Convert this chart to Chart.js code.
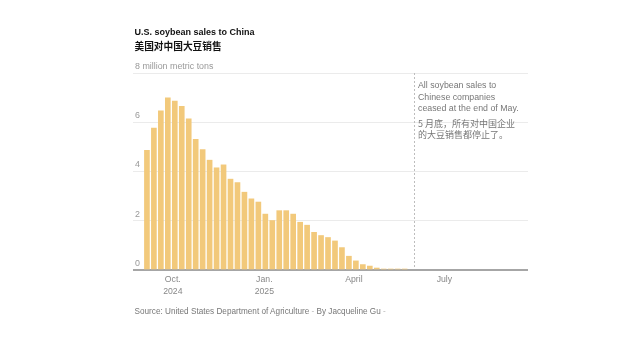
<!DOCTYPE html>
<html>
<head>
<meta charset="utf-8">
<script src="https://cdn.jsdelivr.net/npm/chart.js@4"></script>
<style>
  html, body { margin: 0; padding: 0; background: #fff; }
  #wrap { position: relative; width: 640px; height: 337px; overflow: hidden;
          font-family: 'Liberation Sans', 'Noto Sans CJK SC', sans-serif; }
  #chart { position: absolute; left: 0; top: 0; }
  .t { position: absolute; white-space: nowrap; }
  #title1 { left: 134.5px; top: 26px; font-size: 9px; line-height: 12px; font-weight: bold; color: #121212; }
  #title2 { left: 134.5px; top: 40px; font-size: 9.7px; line-height: 12px; font-weight: bold; color: #121212;
            font-family: 'Noto Sans CJK SC', sans-serif; }
  #noteEn { left: 418px; top: 80.3px; font-size: 8.8px; line-height: 11.5px; color: #777; }
  #noteZh { left: 418px; top: 117.6px; font-size: 9px; line-height: 11px; color: #777;
            font-family: 'Noto Sans CJK SC', sans-serif; }
  #source { left: 134.5px; top: 306.3px; font-size: 8.2px; line-height: 12px; color: #777; }
  #source .sep { color: #bbb; }
</style>
</head>
<body>
<div id="wrap">
  <canvas id="chart" width="640" height="337"></canvas>
  <div class="t" id="title1">U.S. soybean sales to China</div>
  <div class="t" id="title2">美国对中国大豆销售</div>
  <div class="t" id="noteEn">All soybean sales to<br>Chinese companies<br>ceased at the end of May.</div>
  <div class="t" id="noteZh">5 月底，所有对中国企业<br>的大豆销售都停止了。</div>
  <div class="t" id="source">Source: United States Department of Agriculture <span class="sep">-</span> By Jacqueline Gu <span class="sep">-</span></div>
</div>
<script>
// Week-ending dates (categories)
const weekEnding = [
  "2024-09-05","2024-09-12","2024-09-19","2024-09-26",
  "2024-10-03","2024-10-10","2024-10-17","2024-10-24","2024-10-31",
  "2024-11-07","2024-11-14","2024-11-21","2024-11-28",
  "2024-12-05","2024-12-12","2024-12-19","2024-12-26",
  "2025-01-02","2025-01-09","2025-01-16","2025-01-23","2025-01-30",
  "2025-02-06","2025-02-13","2025-02-20","2025-02-27",
  "2025-03-06","2025-03-13","2025-03-20","2025-03-27",
  "2025-04-03","2025-04-10","2025-04-17","2025-04-24",
  "2025-05-01","2025-05-08","2025-05-15","2025-05-22"
];
// Outstanding sales, million metric tons
const sales = [
  4.86, 5.76, 6.46, 6.99,
  6.86, 6.65, 6.14, 5.31, 4.89,
  4.46, 4.15, 4.27, 3.69,
  3.55, 3.16, 2.89, 2.76,
  2.27, 2.01, 2.41, 2.41, 2.27,
  1.94, 1.82, 1.53, 1.40,
  1.32, 1.18, 0.91, 0.56,
  0.37, 0.22, 0.16, 0.08,
  0.04, 0.04, 0.04, 0.04
];
// X tick dates and labels
const xTickDates = ["2024-10-01", "2025-01-01", "2025-04-01", "2025-07-01"];
const xTickLabels = [["Oct.", "2024"], ["Jan.", "2025"], ["April"], ["July"]];
// Y ticks
const yTickValues = [0, 2, 4, 6, 8];
const yTopLabel = "8 million metric tons";
// Axis range and annotation date
const xRange = ["2024-08-22", "2025-09-23"];
const annotationDate = "2025-05-31";

const EPOCH = Date.UTC(2024, 9, 1);
function dayOf(s) {
  const [y, m, d] = s.split("-").map(Number);
  return (Date.UTC(y, m - 1, d) - EPOCH) / 86400000;
}

Chart.defaults.font.family = "'Liberation Sans', 'Noto Sans CJK SC', sans-serif";

const dashedLine = {
  id: 'dashedLine',
  afterDatasetsDraw(chart) {
    const { ctx, chartArea, scales } = chart;
    const x = Math.round(scales.x.getPixelForValue(dayOf(annotationDate))) + 0.5;
    ctx.save();
    ctx.strokeStyle = '#bdbdbd';
    ctx.lineWidth = 1;
    ctx.setLineDash([2, 2]);
    ctx.beginPath();
    ctx.moveTo(x, chartArea.top);
    ctx.lineTo(x, chartArea.bottom - 1);
    ctx.stroke();
    ctx.restore();
  }
};

new Chart(document.getElementById('chart'), {
  type: 'bar',
  data: {
    datasets: [{
      data: weekEnding.map((d, i) => ({ x: dayOf(d), y: sales[i] })),
      backgroundColor: '#f2c97b',
      borderWidth: 0,
      barThickness: 5
    }]
  },
  options: {
    responsive: false,
    animation: false,
    events: [],
    layout: { padding: { left: 133, right: 112, top: 73, bottom: 0 } },
    plugins: { legend: { display: false }, tooltip: { enabled: false } },
    scales: {
      x: {
        type: 'linear',
        offset: false,
        min: dayOf(xRange[0]),
        max: dayOf(xRange[1]),
        afterBuildTicks: (axis) => { axis.ticks = xTickDates.map(d => ({ value: dayOf(d) })); },
        afterFit: (axis) => { axis.height = 67; },
        grid: { display: false, offset: false },
        border: { display: false },
        ticks: {
          autoSkip: false,
          maxRotation: 0,
          padding: -4,
          color: '#888',
          font: { size: 8.7, lineHeight: 1.35 },
          callback: (v, i) => xTickLabels[i]
        }
      },
      y: {
        min: 0,
        max: 8,
        afterBuildTicks: (axis) => { axis.ticks = yTickValues.map(v => ({ value: v })); },
        afterFit: (axis) => { axis.width = 0; },
        grid: {
          drawTicks: false,
          color: (c) => c.tick && c.tick.value === 0 ? '#a6a6a6' : '#ebebeb',
          lineWidth: (c) => c.tick && c.tick.value === 0 ? 2 : 1
        },
        border: { display: false },
        ticks: {
          mirror: true,
          padding: 2,
          labelOffset: -6.5,
          color: '#999',
          font: { size: 8.9 },
          callback: (v) => v === 8 ? yTopLabel : String(v)
        }
      }
    }
  },
  plugins: [dashedLine]
});
</script>
</body>
</html>
